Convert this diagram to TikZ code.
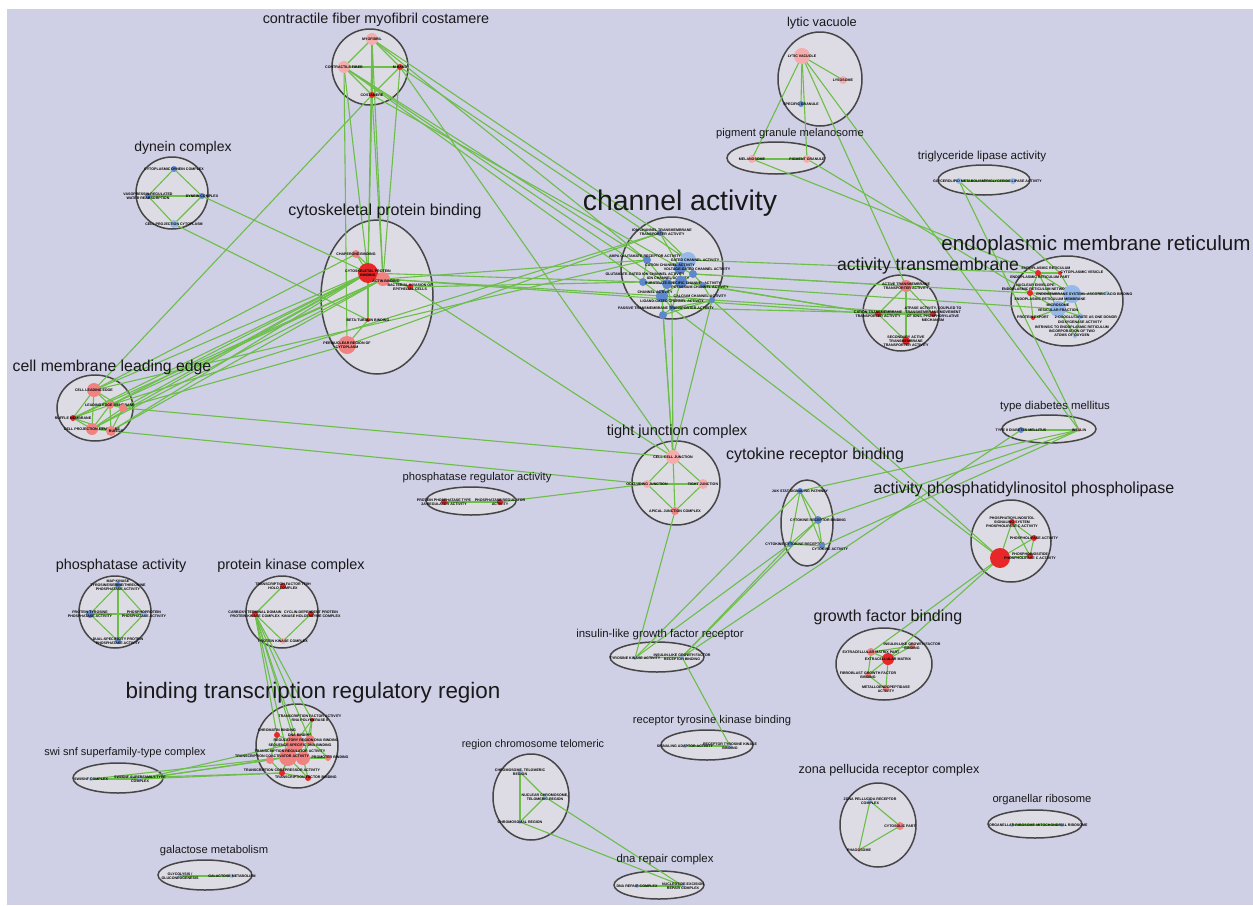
\documentclass[tikz,border=0pt]{standalone}
\usepackage{fontspec}
\setmainfont{Liberation Sans}
\usetikzlibrary{shapes.geometric}
\pgfdeclarelayer{bg}
\pgfdeclarelayer{edges}
\pgfsetlayers{bg,edges,main}
\definecolor{lav}{RGB}{207,207,230}
\definecolor{clfill}{RGB}{221,220,228}
\definecolor{clborder}{RGB}{70,70,70}
\definecolor{edgegreen}{RGB}{108,190,72}
\definecolor{nred}{RGB}{232,40,40}
\definecolor{npink}{RGB}{240,130,130}
\definecolor{nlpink}{RGB}{244,172,172}
\definecolor{nblue}{RGB}{95,135,205}
\definecolor{nlblue}{RGB}{150,185,232}
\definecolor{ttl}{RGB}{25,25,25}
\tikzset{
  cl/.style={ellipse, draw=clborder, fill=clfill, line width=0.75pt, inner sep=0pt},
  gn/.style={circle, inner sep=0pt, draw=none},
  gl/.style={font=\fontsize{1.8}{2}\selectfont\bfseries, align=center, inner sep=0pt, text=black},
  ed/.style={draw=edgegreen, line width=0.55pt},
}
\newcommand{\mkgn}[6]{\node[gn,fill=#5,minimum size=#4pt] (#1) at (#2,#3) {};\node[gl] (#1t) at (#2,#3) {#6};}
\newcommand{\mkgnl}[8]{\node[gn,fill=#5,minimum size=#4pt] (#1) at (#2,#3) {};\node[gl] (#1t) at (#6,#7) {#8};}
\newcommand{\mktx}[4]{\node[gl] (#1) at (#2,#3) {#4};}
\newcommand{\mkcl}[5]{\node[cl,minimum width=#4pt,minimum height=#5pt] (#1) at (#2,#3) {};}
\newcommand{\mkct}[5]{\node[inner sep=0pt,text=ttl,font=\fontsize{#4}{#4}\selectfont] (#1) at (#2,#3) {#5};}
\begin{document}
\begin{tikzpicture}[x=0.5pt,y=-0.5pt]
\useasboundingbox (0,0) rectangle (1253,905);
\begin{pgfonlayer}{bg}
\fill[white] (0,0) rectangle (1253,905);
\fill[lav] (7,9) rectangle (1253,905);
\mkcl{C1}{370}{67}{38}{38}
\mkcl{C2}{172}{193}{36}{36}
\mkcl{C3}{820}{79}{42}{47}
\mkcl{C4}{776}{158}{49}{16}
\mkcl{C5}{984}{180}{46}{15}
\mkcl{C6}{672}{268}{51}{51}
\mkcl{C7}{1067}{301}{56}{45}
\mkcl{C8}{901}{313}{38}{38}
\mkcl{C9}{377}{297}{56}{77}
\mkcl{C10}{95}{408}{38}{33}
\mkcl{C11}{676}{483}{44}{42}
\mkcl{C12}{471}{501}{45}{14}
\mkcl{C13}{807}{523}{26}{43}
\mkcl{C14}{1049}{429}{47}{14}
\mkcl{C15}{1011}{541}{40}{41}
\mkcl{C16}{884}{664}{48}{36}
\mkcl{C17}{115}{612}{36}{36}
\mkcl{C18}{282}{612}{36}{36}
\mkcl{C19}{297}{746}{41}{42}
\mkcl{C20}{118}{778}{45}{15}
\mkcl{C21}{205}{875}{47}{15}
\mkcl{C22}{657}{657}{47}{15}
\mkcl{C23}{707}{745}{46}{15}
\mkcl{C24}{531}{797}{38}{43}
\mkcl{C25}{659}{885}{45}{14}
\mkcl{C26}{878}{825}{38}{42}
\mkcl{C27}{1035}{824}{47}{14}
\end{pgfonlayer}
% titles
\mkct{T1}{376}{20}{7.2}{contractile fiber myofibril costamere}
\mkct{T2}{183}{148}{7}{dynein complex}
\mkct{T3}{822}{23}{6.4}{lytic vacuole}
\mkct{T4}{790}{134}{5.6}{pigment granule melanosome}
\mkct{T5}{982}{156}{5.8}{triglyceride lipase activity}
\mkct{T6}{680}{203}{14.2}{channel activity}
\mkct{T7}{1096}{245}{10.3}{endoplasmic membrane reticulum}
\mkct{T8}{928}{266}{8.8}{activity transmembrane}
\mkct{T9}{385}{211}{8}{cytoskeletal protein binding}
\mkct{T10}{112}{367}{7.9}{cell membrane leading edge}
\mkct{T11}{677}{432}{7.3}{tight junction complex}
\mkct{T12}{477}{478}{5.6}{phosphatase regulator activity}
\mkct{T13}{815}{455}{8}{cytokine receptor binding}
\mkct{T14}{1055}{407}{5.7}{type diabetes mellitus}
\mkct{T15}{1024}{489}{8}{activity phosphatidylinositol phospholipase}
\mkct{T16}{888}{617}{8}{growth factor binding}
\mkct{T17}{121}{566}{7.2}{phosphatase activity}
\mkct{T18}{291}{566}{7.2}{protein kinase complex}
\mkct{T19}{313}{693}{11.2}{binding transcription regulatory region}
\mkct{T20}{125}{753}{5.5}{swi snf superfamily-type complex}
\mkct{T21}{214}{851}{5.6}{galactose metabolism}
\mkct{T22}{660}{635}{5.7}{insulin-like growth factor receptor}
\mkct{T23}{712}{721}{5.6}{receptor tyrosine kinase binding}
\mkct{T24}{533}{745}{5.4}{region chromosome telomeric}
\mkct{T25}{665}{860}{5.7}{dna repair complex}
\mkct{T26}{889}{770}{6.3}{zona pellucida receptor complex}
\mkct{T27}{1042}{800}{5.6}{organellar ribosome}
% contractile
\mkgn{myo}{372}{39}{6}{nlpink}{MYOFIBRIL}
\mkgn{cfib}{344}{67}{6}{nlpink}{CONTRACTILE FIBER}
\mkgn{mband}{400}{67}{3}{nred}{M BAND}
\mkgn{cost}{372}{95}{3}{nred}{COSTAMERE}
% dynein
\mkgn{dyn1}{174}{169}{3}{nblue}{CYTOPLASMIC DYNEIN COMPLEX}
\mkgn{dyn2}{148}{196}{3}{nblue}{VASOPRESSIN-REGULATED\\WATER REABSORPTION}
\mkgn{dyn3}{202}{196}{3}{nblue}{DYNEIN COMPLEX}
\mkgn{dyn4}{174}{224}{4}{nlblue}{CELL PROJECTION CYTOPLASM}
% lytic
\mkgn{lyt1}{802}{56}{8}{nlpink}{LYTIC VACUOLE}
\mkgn{lyt2}{843}{80}{4}{nlpink}{LYSOSOME}
\mkgn{lyt3}{801}{104}{3}{nblue}{SPECIFIC GRANULE}
\mkgn{pig1}{752}{159}{4}{nlpink}{MELANOSOME}
\mkgn{pig2}{807}{159}{4}{nlpink}{PIGMENT GRANULE}
\mkgn{tri1}{959}{181}{3}{nlblue}{GLYCEROLIPID METABOLISM}
\mkgn{tri2}{1013}{181}{3}{nlblue}{TRIGLYCERIDE LIPASE ACTIVITY}
% channel
\mkgnl{ch1}{660}{233}{3}{nblue}{662}{232}{ION CHANNEL TRANSMEMBRANE\\TRANSPORTER ACTIVITY}
\mkgnl{ch4}{647}{260}{4}{nblue}{645}{256}{AMPA GLUTAMATE RECEPTOR ACTIVITY}
\mkgnl{ch2}{688}{260}{8}{nlblue}{695}{260.5}{GATED CHANNEL ACTIVITY}
\mkgnl{ch3}{680}{268}{6}{nblue}{670}{265}{CATION CHANNEL ACTIVITY}
\mkgnl{ch9}{693}{274}{4}{nblue}{697}{269.5}{VOLTAGE-GATED CHANNEL ACTIVITY}
\mkgnl{ch5}{643}{282}{4}{nblue}{645}{274}{GLUTAMATE-GATED ION CHANNEL ACTIVITY}
\mkgnl{ch7}{667}{284}{5}{nblue}{668}{278.5}{ION CHANNEL ACTIVITY}
\mkgnl{ch8}{681}{282}{6}{nblue}{683}{283}{SUBSTRATE-SPECIFIC CHANNEL ACTIVITY}
\mkgnl{ch10}{703}{285}{3}{nblue}{700}{287.5}{POTASSIUM CHANNEL ACTIVITY}
\mkgnl{ch6}{662}{296}{6}{nblue}{655}{292}{CHANNEL ACTIVITY}
\mkgnl{ch11}{712}{300}{3}{nblue}{700}{296.5}{CALCIUM CHANNEL ACTIVITY}
\mkgnl{ch13}{672}{308}{3}{nblue}{672}{301}{LIGAND-GATED CHANNEL ACTIVITY}
\mkgnl{ch12}{663}{315}{4}{nblue}{666}{308}{PASSIVE TRANSMEMBRANE TRANSPORTER ACTIVITY}
% ER
\mkgnl{er1}{1038}{273}{3}{nred}{1046}{268}{ENDOPLASMIC RETICULUM}
\mkgnl{er2}{1060}{273}{2}{nred}{1082}{272.5}{CYTOPLASMIC VESICLE}
\mktx{erx1}{1040}{277}{ENDOPLASMIC RETICULUM PART}
\mkgnl{er3}{1030}{293}{3}{nred}{1036}{287}{NUCLEAR ENVELOPE-\\ENDOPLASMIC RETICULUM NETWORK}
\mkgnl{er4}{1072}{294}{9}{nlblue}{1060}{294}{ENDOMEMBRANE SYSTEM}
\mkgnl{er7}{1107}{293}{2}{nlblue}{1108}{294}{L-ASCORBIC ACID BINDING}
\mkgnl{er5}{1058}{309}{8}{nlblue}{1050}{299}{ENDOPLASMIC RETICULUM MEMBRANE}
\mktx{erx2}{1058}{305}{MICROSOME}
\mktx{erx3}{1058}{310}{VESICULAR FRACTION}
\mkgnl{er6}{1033}{318}{2}{nred}{1033}{317}{PROTEIN EXPORT}
\mkgnl{er8}{1080}{316}{3}{nlblue}{1086}{317}{2-OXOGLUTARATE AS ONE DONOR}
\mktx{erx4}{1080}{322.5}{DIOXYGENASE ACTIVITY}
\mkgnl{er9}{1075}{336}{2}{nlblue}{1072}{331}{INTRINSIC TO ENDOPLASMIC RETICULUM\\INCORPORATION OF TWO\\ATOMS OF OXYGEN}
% activity transmembrane
\mkgn{at1}{906}{286}{6}{npink}{ACTIVE TRANSMEMBRANE\\TRANSPORTER ACTIVITY}
\mkgn{at2}{878}{314}{3}{nred}{CATION TRANSMEMBRANE\\TRANSPORTER ACTIVITY}
\mkgn{at3}{933}{314}{3}{nred}{ATPASE ACTIVITY, COUPLED TO\\TRANSMEMBRANE MOVEMENT\\OF IONS, PHOSPHORYLATIVE\\MECHANISM}
\mkgn{at4}{906}{341}{4}{nred}{SECONDARY ACTIVE\\TRANSMEMBRANE\\TRANSPORTER ACTIVITY}
% cytoskeletal
\mkgn{cy1}{356}{254}{4}{npink}{CHAPERONE BINDING}
\mkgn{cy2}{368}{273}{10}{nred}{CYTOSKELETAL PROTEIN\\BINDING}
\mkgnl{cy3}{383}{279}{7}{npink}{386}{281}{ACTIN BINDING}
\mkgn{cy4}{410}{287}{3}{nred}{BACTERIAL INVASION OF\\EPITHELIAL CELLS}
\mkgn{cy5}{368}{320}{2}{nred}{BETA-TUBULIN BINDING}
\mkgn{cy6}{347}{345}{9}{npink}{PERINUCLEAR REGION OF\\CYTOPLASM}
% leading edge
\mkgn{le1}{94}{390}{7}{npink}{CELL LEADING EDGE}
\mkgn{le2}{110}{405}{4}{npink}{LEADING EDGE MEMBRANE}
\node[gn,fill=npink,minimum size=4pt] (le3) at (123,408) {};
\mkgn{le4}{73}{418}{3}{nred}{RUFFLE MEMBRANE}
\mkgn{le5}{92}{429}{6}{npink}{CELL PROJECTION MEMBRANE}
\mkgnl{le6}{111}{431}{5}{npink}{116}{431}{RUFFLE}
% tight junction
\mkgn{tj1}{673}{457}{7}{nlpink}{CELL-CELL JUNCTION}
\mkgn{tj2}{647}{484}{4}{nlpink}{OCCLUDING JUNCTION}
\mkgn{tj3}{703}{484}{5}{nlpink}{TIGHT JUNCTION}
\mkgn{tj4}{675}{511}{4}{npink}{APICAL JUNCTION COMPLEX}
% phosphatase regulator
\mkgn{pr1}{444}{502}{3}{nred}{PROTEIN PHOSPHATASE TYPE\\2A REGULATOR ACTIVITY}
\mkgn{pr2}{500}{502}{3}{nred}{PHOSPHATASE REGULATOR\\ACTIVITY}
% cytokine
\mkgn{ck1}{800}{491}{3}{nblue}{JAK STAT SIGNALING PATHWAY}
\mkgn{ck2}{818}{520}{4}{nblue}{CYTOKINE RECEPTOR BINDING}
\mkgnl{ck3}{790}{544}{3}{nblue}{795}{544}{CYTOKINE-CYTOKINE RECEPTOR}
\mkgnl{ck4}{822}{546}{3}{nblue}{830}{549}{CYTOKINE ACTIVITY}
% type diabetes
\mkgn{td1}{1021}{430}{3}{nblue}{TYPE II DIABETES MELLITUS}
\mkgn{td2}{1079}{430}{2}{nlpink}{INSULIN}
% phosphatidylinositol
\mkgn{pi1}{1012}{522}{3}{nred}{PHOSPHATIDYLINOSITOL\\SIGNALING SYSTEM\\PHOSPHOLIPASE C ACTIVITY}
\node[gn,fill=nred,minimum size=10pt] (pi2) at (1000,558) {};
\mkgn{pi3}{1034}{538}{3}{nred}{PHOSPHOLIPASE ACTIVITY}
\mkgn{pi4}{1030}{556}{3}{nred}{PHOSPHOINOSITIDE\\PHOSPHOLIPASE C ACTIVITY}
% growth factor
\mkgn{gf1}{871}{652}{4}{npink}{EXTRACELLULAR MATRIX PART}
\mkgn{gf2}{888}{659}{6}{nred}{EXTRACELLULAR MATRIX}
\mkgn{gf3}{912}{646}{3}{npink}{INSULIN-LIKE GROWTH FACTOR\\BINDING}
\mkgn{gf4}{868}{675}{3}{npink}{FIBROBLAST GROWTH FACTOR\\BINDING}
\mkgn{gf5}{886}{689}{3}{npink}{METALLOENDOPEPTIDASE\\ACTIVITY}
% phosphatase activity
\mkgn{pa1}{118}{585}{3}{nblue}{MAP KINASE\\TYROSINE/SERINE/THREONINE\\PHOSPHATASE ACTIVITY}
\mkgn{pa2}{90}{614}{4}{nblue}{PROTEIN TYROSINE\\PHOSPHATASE ACTIVITY}
\mkgn{pa3}{144}{614}{3}{nlblue}{PHOSPHOPROTEIN\\PHOSPHATASE ACTIVITY}
\mkgn{pa4}{118}{641}{3}{nblue}{DUAL-SPECIFICITY PROTEIN\\PHOSPHATASE ACTIVITY}
% protein kinase complex
\mkgn{pk1}{283}{586}{3}{nred}{TRANSCRIPTION FACTOR TFIIH\\HOLO COMPLEX}
\mkgn{pk2}{255}{614}{3}{nred}{CARBOXY-TERMINAL DOMAIN\\PROTEIN KINASE COMPLEX}
\mkgn{pk3}{311}{614}{3}{nred}{CYCLIN-DEPENDENT PROTEIN\\KINASE HOLOENZYME COMPLEX}
\mkgn{pk4}{283}{641}{3}{nlpink}{PROTEIN KINASE COMPLEX}
% binding transcription
\mkgnl{bt8}{312}{720}{2}{nred}{310}{718}{TRANSCRIPTION FACTOR ACTIVITY\\RNA POLYMERASE II}
\mkgnl{bt5}{277}{735}{3}{nred}{277}{730.5}{CHROMATIN BINDING}
\mkgnl{bt1}{295}{743}{9}{npink}{300}{735.5}{DNA BINDING}
\mkgnl{bt4}{310}{740}{5}{npink}{306}{740.5}{REGULATORY REGION DNA BINDING}
\mkgnl{bt3}{303}{758}{7}{npink}{300}{745.5}{SEQUENCE-SPECIFIC DNA BINDING}
\mkgnl{bt2}{288}{757}{9}{npink}{290}{751}{TRANSCRIPTION REGULATOR ACTIVITY}
\mkgnl{bt6}{270}{760}{4}{npink}{272}{756.5}{TRANSCRIPTION COACTIVATOR ACTIVITY}
\mkgnl{bt7}{328}{758}{3}{npink}{330}{757}{PROMOTER BINDING}
\mkgnl{bt9}{282}{773}{3}{nred}{282}{770}{TRANSCRIPTION COREPRESSOR ACTIVITY}
\mkgnl{bt10}{308}{778}{3}{nred}{306}{777}{TRANSCRIPTION FACTOR BINDING}
% small pairs
\mkgn{sw1}{91}{779}{2}{nlblue}{SWI/SNF COMPLEX}
\mkgn{sw2}{140}{779}{2}{nlblue}{SWI/SNF SUPERFAMILY-TYPE\\COMPLEX}
\mkgn{ga1}{180}{876}{2}{nlblue}{GLYCOLYSIS /\\GLUCONEOGENESIS}
\mkgn{ga2}{232}{876}{2}{nlblue}{GALACTOSE METABOLISM}
\mkgn{ig1}{635}{658}{2}{nlblue}{TYROSINE KINASE ACTIVITY}
\mkgn{ig2}{682}{657}{2}{nlblue}{INSULIN-LIKE GROWTH FACTOR\\RECEPTOR BINDING}
\mkgn{rt1}{685}{746}{2}{nlblue}{SIGNALING ADAPTOR ACTIVITY}
\mkgn{rt2}{730}{746}{2}{nlblue}{RECEPTOR TYROSINE KINASE\\BINDING}
\mkgn{rc1}{520}{772}{2}{nlblue}{CHROMOSOME, TELOMERIC\\REGION}
\mkgn{rc2}{545}{797}{2}{nlblue}{NUCLEAR CHROMOSOME,\\TELOMERIC REGION}
\mkgn{rc3}{520}{822}{2}{nlblue}{CHROMOSOMAL REGION}
\mkgn{dr1}{637}{886}{2}{nlblue}{DNA REPAIR COMPLEX}
\mkgn{dr2}{683}{886}{2}{nlblue}{NUCLEOTIDE-EXCISION\\REPAIR COMPLEX}
\mkgn{zp1}{870}{801}{2}{nlblue}{ZONA PELLUCIDA RECEPTOR\\COMPLEX}
\mkgn{zp2}{900}{826}{4}{npink}{CYTOSOLIC PART}
\mkgn{zp3}{859}{850}{2}{nlpink}{PHAGOSOME}
\mkgn{or1}{1012}{825}{2}{nlblue}{ORGANELLAR RIBOSOME}
\mkgn{or2}{1062}{825}{2}{nlblue}{MITOCHONDRIAL RIBOSOME}
\begin{pgfonlayer}{edges}
\foreach \a/\b in {myo/cfib, myo/cost, myo/mband, cfib/mband, cfib/cost, mband/cost,
 dyn1/dyn2, dyn1/dyn3, dyn2/dyn3, dyn2/dyn4, dyn3/dyn4,
 lyt1/lyt2, lyt1/lyt3, pig1/pig2, tri1/tri2,
 at1/at2, at1/at3, at1/at4, at2/at3, at2/at4,
 cy2/cy1, cy2/cy3, cy2/cy4, cy2/cy5, cy3/cy4, cy5/cy6, cy3/cy1,
 le1/le2, le1/le3, le1/le4, le1/le5, le2/le4, le2/le5, le2/le6, le3/le5, le3/le6, le4/le5, le4/le6, le5/le6, le2/le3,
 tj1/tj2, tj1/tj3, tj1/tj4, tj2/tj3, tj2/tj4, tj3/tj4,
 pr1/pr2, ck1/ck2, ck1/ck3, ck2/ck3, ck2/ck4, ck3/ck4, ck1/ck4,
 td1/td2, pi1/pi2, pi1/pi3, pi2/pi3, pi2/pi4, pi3/pi4, pi1/pi4,
 gf2/gf1, gf2/gf3, gf2/gf4, gf2/gf5, gf1/gf4, gf1/gf3, gf4/gf5,
 pa1/pa2, pa1/pa3, pa1/pa4, pa2/pa3, pa2/pa4, pa3/pa4,
 pk1/pk2, pk2/pk4, pk3/pk4,
 sw1/sw2, ga1/ga2, ig1/ig2, rt1/rt2, rc1/rc2, rc1/rc3, rc2/rc3, dr1/dr2, zp1/zp2, zp1/zp3, zp2/zp3, or1/or2,
 ch1/ch2, ch1/ch3, ch2/ch3, ch2/ch9, ch3/ch7, ch3/ch8, ch4/ch7, ch4/ch5, ch5/ch6, ch5/ch7, ch6/ch7, ch6/ch8, ch6/ch12, ch6/ch13, ch7/ch8, ch8/ch9, ch8/ch10, ch8/ch13, ch9/ch10, ch10/ch11, ch11/ch13, ch12/ch13, ch6/ch11, ch3/ch9, ch7/ch13, ch12/ch11,
 bt1/bt2, bt1/bt3, bt1/bt4, bt1/bt5, bt1/bt8, bt2/bt3, bt2/bt6, bt2/bt9, bt3/bt4, bt3/bt7, bt3/bt10, bt4/bt8, bt4/bt7, bt2/bt10, bt1/bt9, bt5/bt6, bt8/bt3, bt9/bt10, bt6/bt9,
 er1/er2, er1/er3, er1/er4, er2/er4, er3/er4, er3/er5, er4/er5, er5/er6, er5/er8, er4/er8, er5/er9, er8/er9, er4/er7, er1/er5, er3/er6,
 myo/ch1, myo/ch4, cfib/ch4, cfib/ch5, mband/ch2, cost/ch3, cfib/ch7,
 myo/cy2, myo/cy3, cfib/cy2, cost/cy2, cost/cy3, mband/cy3, cfib/cy6, mband/tj1, cost/le1,
 dyn3/cy2, dyn4/cy5,
 cy2/le1, cy2/le2, cy2/le3, cy2/le4, cy2/le5, cy2/le6, cy3/le2, cy3/le4, cy3/le5, cy3/le6, cy6/le3, cy1/le1,
 cy2/ch5, cy3/ch6, cy4/ch5, cy6/ch1, cy3/ch4, cy3/at2, cy4/tj1,
 le3/tj1, le6/tj2, le1/ch4, le2/ch1,
 ch10/at2, ch11/at3, ch8/at2, ch9/at1, ch13/at3,
 ch2/er1, ch9/er3, ch10/er5,
 ch12/tj1, ch13/tj1, ch6/tj1, ch11/tj1, ch11/pi2, ch13/pi2,
 pig1/er1, pig2/er3, tri1/er2, lyt1/at1, lyt1/td2, tri1/td2, lyt1/pig1, lyt1/pig2,
 td2/ck1, td2/ck2, td2/ck4, td1/ig2, ck1/ig1, ck3/ig1, ck3/ig2, ck2/ig2, ig2/rt2,
 pi2/gf2, pi2/gf1, tj2/pr2, tj4/ig1,
 pk2/bt1, pk2/bt2, pk2/bt3, pk2/bt4, pk2/bt5, pk2/bt8,
 sw2/bt1, sw2/bt2, sw2/bt6, sw1/bt2, sw1/bt9, sw2/bt9,
 rc2/dr2, rc3/dr2}
 {\draw[ed] (\a.center) -- (\b.center);}
\end{pgfonlayer}
\end{tikzpicture}
\end{document}
